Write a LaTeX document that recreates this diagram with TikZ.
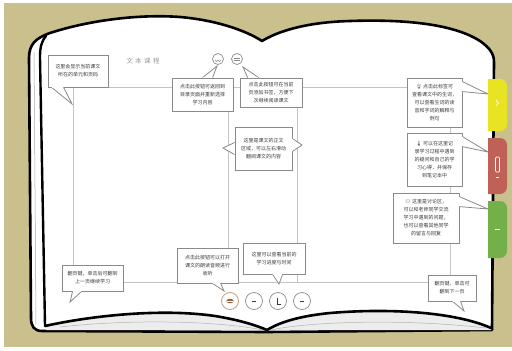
\documentclass[tikz,border=0pt]{standalone}
\usepackage{fontspec}
\newfontfamily\cjk{Noto Sans CJK SC}
\newfontfamily\emoji{Noto Emoji}
\usetikzlibrary{calc}

\definecolor{khaki}{HTML}{C9C08E}
\definecolor{wirecol}{HTML}{C4C4C4}
\definecolor{boxline}{HTML}{8A8A8A}
\definecolor{txt}{HTML}{3A3A3A}
\definecolor{tabyellow}{HTML}{E8E424}
\definecolor{tabred}{HTML}{BF6157}
\definecolor{tabgreen}{HTML}{74B04A}
\definecolor{playring}{HTML}{C9A486}
\definecolor{playicon}{HTML}{9C5F42}

% speech-bubble tail: base point, tip, base point
\newcommand{\bubtail}[3]{%
  \draw[tailline] (#1) -- (#2) -- (#3);
  \draw[white, line width=1.4pt, shorten <=0.7pt, shorten >=0.7pt] (#1) -- (#3);}

\begin{document}
\begin{tikzpicture}[x=1pt, y=-1pt,
  bubble/.style={draw=boxline, line width=0.8pt, fill=white, rectangle,
    inner sep=0pt, font=\cjk\fontsize{5}{8}\selectfont, text=txt, align=center},
  tailline/.style={draw=boxline, line width=0.8pt, fill=white, line join=miter},
  wire/.style={draw=wirecol, line width=0.6pt},
  outline/.style={draw=black, line width=2.6pt, line join=round, line cap=round},
  ctrl/.style={circle, draw=boxline, line width=0.7pt, fill=white, inner sep=0pt},
  title/.style={font=\cjk\fontsize{6.5}{7}\selectfont, text=black!40}]
\useasboundingbox (0,0) rectangle (512,351);

% backdrop
\fill[white] (0,0) rectangle (512,351);
\fill[khaki] (4,3) rectangle (512,347);

% book body: cover and pages
\filldraw[fill=white, outline]
  (29,58) .. controls (29,44) and (36,38) .. (50,33)
  .. controls (90,20) and (140,14) .. (180,17)
  .. controls (215,20) and (245,30) .. (262,41)
  .. controls (280,30) and (310,22) .. (350,21)
  .. controls (410,19) and (455,25) .. (480,41)
  .. controls (490,48) and (494,54) .. (494,62)
  -- (492,330) -- (267,332) -- (42,331)
  .. controls (34,331) and (31,326) .. (31,318) -- cycle;

% page stack on the left and at the bottom
\draw[black!35, line width=0.5pt] (34,52) -- (36,324);
\fill[black!7] (46,326) .. controls (90,316) and (160,308) .. (215,316)
  .. controls (240,320) and (258,326) .. (267,330)
  .. controls (280,322) and (300,316) .. (330,313)
  .. controls (390,308) and (455,312) .. (491,328) -- (491,330) -- (46,330) -- cycle;
\draw[black!30, line width=0.5pt] (60,327) .. controls (140,318) and (230,322) .. (267,331)
  .. controls (300,322) and (400,318) .. (486,328);
\draw[outline, line width=2.4pt] (46,36) .. controls (41,42) and (40,48) .. (40,58) -- (45,325);
\draw[outline] (45,326) .. controls (90,316) and (160,308) .. (215,316)
  .. controls (240,320) and (258,326) .. (267,330)
  .. controls (280,322) and (300,316) .. (330,313)
  .. controls (390,308) and (455,312) .. (491,328);

% layout frame of the page
\coordinate (fTL) at (73,87);
\coordinate (fBR) at (450,282);
\coordinate (colA) at (228,87);
\coordinate (colB) at (297,87);
\draw[wire] (fTL) rectangle (fBR);
\draw[wire] (colA) -- (colA |- fBR);
\draw[wire] (colB) -- (colB |- fBR);

% page title
\node[title] (ttl) at (143,61) {文\hspace{2.5pt}本\hspace{2.5pt}课\hspace{2.5pt}程};

% toolbar buttons at the top
\node[ctrl, minimum size=11pt] (tb1) at (218,59) {};
\node[ctrl, minimum size=11pt] (tb2) at (237,59) {};
\draw[boxline, line width=0.5pt] (215,60) arc[start angle=180, end angle=0, radius=1.5];
\draw[boxline, line width=0.5pt] (218,60) arc[start angle=180, end angle=0, radius=1.5];
\draw[boxline, line width=0.5pt] (234,58) -- (240,58) (234,60.5) -- (240,60.5);

% player buttons at the bottom
\node[ctrl, draw=playring, line width=0.9pt, minimum size=17pt] (pb1) at (230,301) {};
\node[ctrl, minimum size=17pt] (pb2) at (254,301) {};
\node[ctrl, minimum size=17pt] (pb3) at (278,301) {};
\node[ctrl, minimum size=17pt] (pb4) at (302,301) {};
\fill[playicon] (pb1) ellipse[x radius=3.6, y radius=2.2];
\draw[white, line width=0.4pt] (227,301) -- (233,301);
\draw[txt, line width=0.8pt] (252,301) -- (256,301);
\draw[txt, line width=0.8pt] (277,297.5) -- (277,304) -- (281,304);
\draw[txt, line width=0.8pt] (300,301) -- (304,301);

% callout bubbles
\node[bubble, minimum width=60pt, minimum height=32pt] (b1) at (78,71)
  {这里会显示当前课文\\所在的单元和页码};
\coordinate (t1) at (72,104);
\bubtail{$(b1.south west)+(4,0)$}{t1}{$(b1.south west)+(16,0)$}

\node[bubble, minimum width=61pt, minimum height=33pt] (b2) at (202.5,94.5)
  {点击此按钮可返回到\\目录页面并重新选择\\学习内容};
\coordinate (t2) at (217,66);
\bubtail{$(b2.north west)+(31,0)$}{t2}{$(b2.north west)+(41,0)$}

\node[bubble, minimum width=62pt, minimum height=29pt] (b3) at (271,92.5)
  {点击此按钮可在当前\\页添加书签，方便下\\次继续阅读课文};
\coordinate (t3) at (243,67);
\bubtail{$(b3.north west)+(8,0)$}{t3}{$(b3.north west)+(19,0)$}

\node[bubble, minimum width=57pt, minimum height=43pt] (b4) at (263.5,148.5)
  {这里是课文的正文\\区域，可以左右滑动\\翻阅课文的内容};
\coordinate (t4l) at (223,148);
\coordinate (t4r) at (302,145);
\bubtail{$(b4.west)+(0,-6)$}{t4l}{$(b4.west)+(0,6)$}
\bubtail{$(b4.east)+(0,-10)$}{t4r}{$(b4.east)+(0,3)$}

\node[bubble, minimum width=61pt, minimum height=26pt] (b5) at (92.5,278)
  {翻页键，单击后可翻到\\上一页继续学习};
\coordinate (t5) at (70,302);
\bubtail{$(b5.south west)+(11,0)$}{t5}{$(b5.south west)+(20,0)$}

\node[bubble, minimum width=61pt, minimum height=35pt] (b6) at (207.5,265.5)
  {点击此按钮可以打开\\课文的朗读音频进行\\收听};
\coordinate (t6) at (224,291);
\bubtail{$(b6.south west)+(36,0)$}{t6}{$(b6.south west)+(44,0)$}

\node[bubble, minimum width=62pt, minimum height=31pt] (b7) at (274,258.5)
  {这里可以查看当前的\\学习进度与时间};
\coordinate (t7) at (279,284);
\bubtail{$(b7.south west)+(30,0)$}{t7}{$(b7.south west)+(40,0)$}

\node[bubble, minimum width=55pt, minimum height=49pt] (b8) at (434.5,102.5)
  {{\emoji 💡}\,点击此标签可\\查看课文中的生词，\\可以查看生词的读\\音和字词的解释与\\例句};
\coordinate (t8) at (488,94);
\bubtail{$(b8.north east)+(0,4)$}{t8}{$(b8.north east)+(0,14)$}

\node[bubble, minimum width=55pt, minimum height=53pt] (b9) at (434.5,159.5)
  {{\emoji 🌡}\,可以在这里记\\录学习过程中遇到\\的疑问和自己的学\\习心得，并保存\\到笔记本中};
\coordinate (t9) at (488,152);
\bubtail{$(b9.north east)+(0,4)$}{t9}{$(b9.north east)+(0,14)$}

\node[bubble, minimum width=66pt, minimum height=50pt] (b10) at (426,218)
  {{\emoji 💬}\,这里是讨论区，\\可以和老师同学交流\\学习中遇到的问题，\\也可以查看其他同学\\的留言与回复};
\coordinate (t10) at (488,209);
\bubtail{$(b10.north east)+(0,4)$}{t10}{$(b10.north east)+(0,14)$}

\node[bubble, minimum width=48pt, minimum height=26pt] (b11) at (452,288)
  {翻页键，单击可\\翻到下一页};
\coordinate (t11) at (464,311);
\bubtail{$(b11.south west)+(25,0)$}{t11}{$(b11.south west)+(33,0)$}

% index tabs on the fore edge
\fill[tabyellow] (488,79) -- (500,79) arc[start angle=-90, end angle=0, radius=7]
  -- (507,124) arc[start angle=0, end angle=90, radius=7] -- (488,131) -- cycle;
\fill[tabred] (488,138) -- (500,138) arc[start angle=-90, end angle=0, radius=7]
  -- (507,187) arc[start angle=0, end angle=90, radius=7] -- (488,194) -- cycle;
\fill[tabgreen] (488,201) -- (500,201) arc[start angle=-90, end angle=0, radius=7]
  -- (507,251) arc[start angle=0, end angle=90, radius=7] -- (488,258) -- cycle;
\draw[white, line width=0.6pt] (496,100) -- (498.5,103) -- (496,106);
\draw[white, line width=0.7pt, rounded corners=1pt] (495.5,157) rectangle (499.5,172);
\draw[white, line width=0.8pt] (496,177) -- (499,177);
\draw[white, line width=0.7pt] (494.5,229) -- (500,229);
\end{tikzpicture}
\end{document}
